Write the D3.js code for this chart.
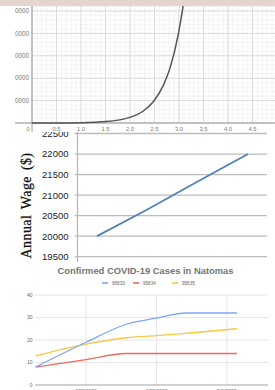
<!DOCTYPE html>
<html>
<head>
<meta charset="utf-8">
<script src="https://d3js.org/d3.v7.min.js"></script>
<style>
  body { margin: 0; background: #fff; }
  svg { display: block; }
</style>
</head>
<body>
<script>
var width = 275,
    height = 390;

// top panel: exponential curve
var growthX = [0, 0.5, 1.0, 1.5, 2.0, 2.265, 2.475, 2.68, 2.816, 2.986, 3.088, 3.2];
var growthY = [10, 40, 150, 620, 2500, 5250, 9500, 16800, 24500, 39700, 52800, 72000];
var growthXTicks = [0, 0.5, 1.0, 1.5, 2.0, 2.5, 3.0, 3.5, 4.0, 4.5];
var growthYTicks = [10000, 20000, 30000, 40000, 50000];

// middle panel: annual wage
var wageYear = [1, 2, 3, 4];
var wageValue = [20000, 20650, 21330, 22000];
var wageTicks = [19500, 20000, 20500, 21000, 21500, 22000, 22500];

// bottom panel: covid cases
var caseDates = ["2020-04-17", "2020-04-22", "2020-04-26", "2020-04-29", "2020-05-02", "2020-05-07"];
var cases95833 = [8, 19, 27, 29.7, 32, 32];
var cases95834 = [8, 11.3, 14, 14, 14, 14];
var cases95835 = [13, 18.2, 21, 21.9, 23, 25];
var caseSeries = ["95833", "95834", "95835"];
var caseTickDates = ["2020-04-22", "2020-04-29", "2020-05-06"];
var caseYTicks = [0, 10, 20, 30, 40];

var parse = d3.timeParse("%Y-%m-%d");

var svg = d3.select("body").append("svg")
    .attr("width", width)
    .attr("height", height);

var defs = svg.append("defs");
defs.append("clipPath").attr("id", "clipTop")
  .append("rect").attr("x", 15).attr("y", 6).attr("width", 260).attr("height", 126);
defs.append("clipPath").attr("id", "clipMid")
  .append("rect").attr("x", 0).attr("y", 132).attr("width", 275).attr("height", 130);

// ---------- middle chart ----------
var midG = svg.append("g").attr("clip-path", "url(#clipMid)");
var xMid = d3.scaleLinear().domain([1, 4]).range([97, 248]);
var yMid = d3.scaleLinear().domain([19500, 22500]).range([256.7, 133.5]);

midG.selectAll(".grid")
  .data(wageTicks)
  .enter().append("line")
  .attr("x1", 74.5).attr("x2", 267)
  .attr("y1", function(d) { return yMid(d); })
  .attr("y2", function(d) { return yMid(d); })
  .attr("stroke", "#bdbdbd").attr("stroke-width", 1.3);

midG.append("line")
  .attr("x1", 77.5).attr("x2", 77.5)
  .attr("y1", 125).attr("y2", 262)
  .attr("stroke", "#b5b5b5").attr("stroke-width", 1.2);

midG.selectAll(".lab")
  .data(wageTicks)
  .enter().append("text")
  .attr("x", 68.5)
  .attr("y", function(d) { return yMid(d) + 3.4; })
  .attr("text-anchor", "end")
  .attr("font-family", "Liberation Sans, Arial, sans-serif")
  .attr("font-size", 9.5)
  .attr("fill", "#222")
  .text(function(d) { return d; });

midG.append("path")
  .datum(wageYear.map(function(d, i) { return [d, wageValue[i]]; }))
  .attr("fill", "none")
  .attr("stroke", "#4f81bd")
  .attr("stroke-width", 1.8)
  .attr("d", d3.line()
    .x(function(d) { return xMid(d[0]); })
    .y(function(d) { return yMid(d[1]); }));

midG.append("text")
  .attr("transform", "translate(30.5,205.5) rotate(-90)")
  .attr("text-anchor", "middle")
  .attr("font-family", "Liberation Serif, Times New Roman, serif")
  .attr("font-size", 14)
  .attr("letter-spacing", 0.4)
  .attr("word-spacing", 2)
  .attr("fill", "#111")
  .attr("stroke", "#111")
  .attr("stroke-width", 0.25)
  .text("Annual Wage ($)");

// ---------- top chart ----------
var topG = svg.append("g").attr("clip-path", "url(#clipTop)");
var xTop = d3.scaleLinear().domain([0, 4.5]).range([32, 252.5]);
var yTop = d3.scaleLinear().domain([0, 50000]).range([123, 11]);

topG.append("rect").attr("x", 0).attr("y", 0).attr("width", 275).attr("height", 132).attr("fill", "#fff");

var minorX = d3.range(0, 50).map(function(i) { return i / 10; });
var minorY = d3.range(0, 27).map(function(i) { return i * 2000; });

topG.selectAll(".mx").data(minorX).enter().append("line")
  .attr("x1", function(d) { return xTop(d); }).attr("x2", function(d) { return xTop(d); })
  .attr("y1", 0).attr("y2", 123)
  .attr("stroke", "#efefef").attr("stroke-width", 0.7);
topG.selectAll(".my").data(minorY).enter().append("line")
  .attr("x1", 32).attr("x2", 275)
  .attr("y1", function(d) { return yTop(d); }).attr("y2", function(d) { return yTop(d); })
  .attr("stroke", "#efefef").attr("stroke-width", 0.7);

topG.selectAll(".gx").data(growthXTicks.concat([5.0])).enter().append("line")
  .attr("x1", function(d) { return xTop(d); }).attr("x2", function(d) { return xTop(d); })
  .attr("y1", 0).attr("y2", 123)
  .attr("stroke", "#d9d9d9").attr("stroke-width", 0.9);
topG.selectAll(".gy").data(growthYTicks).enter().append("line")
  .attr("x1", 32).attr("x2", 275)
  .attr("y1", function(d) { return yTop(d); }).attr("y2", function(d) { return yTop(d); })
  .attr("stroke", "#d9d9d9").attr("stroke-width", 0.9);

topG.append("line")
  .attr("x1", 32).attr("x2", 32).attr("y1", 0).attr("y2", 132)
  .attr("stroke", "#9a9a9a").attr("stroke-width", 1);
topG.append("line")
  .attr("x1", 15).attr("x2", 275).attr("y1", 123).attr("y2", 123)
  .attr("stroke", "#8a8a8a").attr("stroke-width", 1.2);

topG.selectAll(".ly").data(growthYTicks).enter().append("text")
  .attr("x", 29)
  .attr("y", function(d) { return yTop(d) + 2.2; })
  .attr("text-anchor", "end")
  .attr("font-family", "Liberation Sans, Arial, sans-serif")
  .attr("font-size", 6.3)
  .attr("fill", "#777")
  .text(function(d) { return d; });

topG.selectAll(".lx").data(growthXTicks).enter().append("text")
  .attr("x", function(d) { return d === 0 ? xTop(d) - 4 : xTop(d); })
  .attr("y", 130.5)
  .attr("text-anchor", "middle")
  .attr("font-family", "Liberation Sans, Arial, sans-serif")
  .attr("font-size", 5.8)
  .attr("fill", "#777")
  .text(function(d) { return d === 0 ? "0" : d3.format(".1f")(d); });

topG.append("path")
  .datum(growthX.map(function(d, i) { return [d, growthY[i]]; }))
  .attr("fill", "none")
  .attr("stroke", "#555")
  .attr("stroke-width", 1.5)
  .attr("d", d3.line()
    .curve(d3.curveMonotoneX)
    .x(function(d) { return xTop(d[0]); })
    .y(function(d) { return yTop(d[1]); }));

// pink band at the very top
svg.append("rect").attr("x", 0).attr("y", 0).attr("width", width).attr("height", 6).attr("fill", "#e6d5ce");

// ---------- bottom chart ----------
var botG = svg.append("g");
var xBot = d3.scaleTime().domain([parse("2020-04-17"), parse("2020-05-07")]).range([35.7, 236.9]);
var yBot = d3.scaleLinear().domain([0, 40]).range([385, 295]);

botG.selectAll(".gy").data(caseYTicks.slice(1)).enter().append("line")
  .attr("x1", 35).attr("x2", 268)
  .attr("y1", function(d) { return yBot(d); }).attr("y2", function(d) { return yBot(d); })
  .attr("stroke", "#e3e3e3").attr("stroke-width", 0.9);
botG.selectAll(".gx").data(caseTickDates).enter().append("line")
  .attr("x1", function(d) { return xBot(parse(d)); }).attr("x2", function(d) { return xBot(parse(d)); })
  .attr("y1", 295).attr("y2", 385)
  .attr("stroke", "#e3e3e3").attr("stroke-width", 0.9);
botG.append("line")
  .attr("x1", 35).attr("x2", 268).attr("y1", yBot(0)).attr("y2", yBot(0))
  .attr("stroke", "#999").attr("stroke-width", 0.9);

botG.selectAll(".ly").data(caseYTicks).enter().append("text")
  .attr("x", 32.5)
  .attr("y", function(d) { return yBot(d) + 1.8; })
  .attr("text-anchor", "end")
  .attr("font-family", "Liberation Sans, Arial, sans-serif")
  .attr("font-size", 5)
  .attr("fill", "#666")
  .text(function(d) { return d; });

botG.selectAll(".lx").data(caseTickDates).enter().append("text")
  .attr("x", function(d) { return xBot(parse(d)); })
  .attr("y", 392.5)
  .attr("text-anchor", "middle")
  .attr("font-family", "Liberation Sans, Arial, sans-serif")
  .attr("font-size", 5)
  .attr("fill", "#666")
  .text(function(d) { return d3.timeFormat("%-m/%-d/%Y")(parse(d)); });

var colors = ["#7ea6f0", "#ea6a5e", "#f8c744"];
var seriesValues = [cases95833, cases95834, cases95835];
var caseLine = d3.line()
  .curve(d3.curveMonotoneX)
  .x(function(d) { return xBot(d[0]); })
  .y(function(d) { return yBot(d[1]); });

// draw red under yellow under blue
[1, 2, 0].forEach(function(k) {
  botG.append("path")
    .datum(caseDates.map(function(d, i) { return [parse(d), seriesValues[k][i]]; }))
    .attr("fill", "none")
    .attr("stroke", colors[k])
    .attr("stroke-width", 1.3)
    .attr("d", caseLine);
});

botG.append("text")
  .attr("x", 145.5).attr("y", 273.5)
  .attr("text-anchor", "middle")
  .attr("font-family", "Liberation Sans, Arial, sans-serif")
  .attr("font-weight", "bold")
  .attr("font-size", 9.4)
  .attr("fill", "#757575")
  .text("Confirmed COVID-19 Cases in Natomas");

var legendX = [102, 133, 172];
var legend = botG.selectAll(".leg").data(caseSeries).enter().append("g")
  .attr("transform", function(d, i) { return "translate(" + legendX[i] + ",283)"; });
legend.append("line")
  .attr("x1", 0).attr("x2", 6).attr("y1", 0).attr("y2", 0)
  .attr("stroke", function(d, i) { return colors[i]; })
  .attr("stroke-width", 1.6);
legend.append("text")
  .attr("x", 10).attr("y", 1.7)
  .attr("font-family", "Liberation Sans, Arial, sans-serif")
  .attr("font-size", 4.6)
  .attr("fill", "#666")
  .text(function(d) { return d; });
</script>
</body>
</html>
